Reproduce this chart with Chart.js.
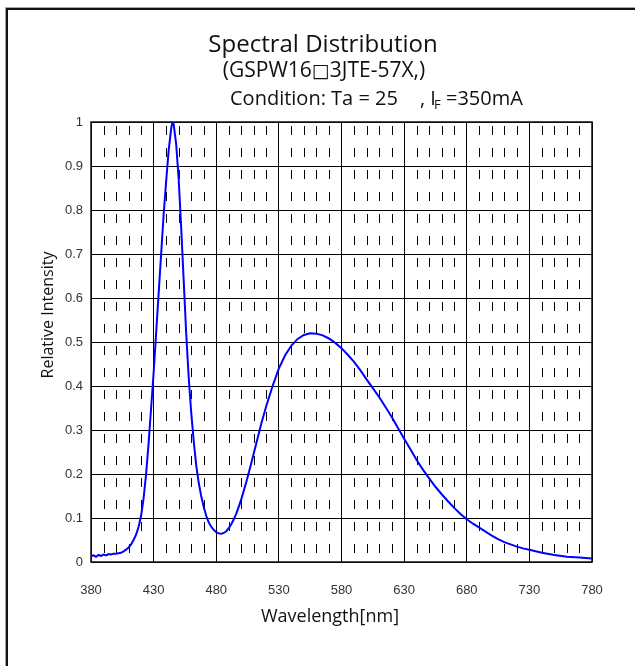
<!DOCTYPE html>
<html><head><meta charset="utf-8">
<script src="https://cdn.jsdelivr.net/npm/chart.js@4"></script>
<style>html,body{margin:0;padding:0;background:#fff;overflow:hidden}#wrap{position:relative;width:635px;height:666px}canvas{display:block}</style>
</head><body><div id="wrap"><canvas id="c" width="635" height="666"></canvas></div>
<script>
const wavelengths = [380,382,384,386,388,390,392,394,396,398,400,402,404,406,408,410,412,414,416,418,420,422,424,426,428,430,432,434,436,438,440,442,444,445,446,448,450,452,454,456,458,460,462,464,466,468,470,472,474,476,478,480,482,484,486,488,490,492,494,496,498,500,504,508,512,516,520,525,530,535,540,545,550,555,560,565,570,575,580,585,590,595,600,605,610,615,620,625,630,635,640,645,650,655,660,665,670,675,680,685,690,695,700,705,710,715,720,725,730,740,750,760,770,780];
const intensity = [0.013,0.015,0.012,0.016,0.014,0.017,0.015,0.018,0.017,0.019,0.019,0.020,0.021,0.024,0.028,0.033,0.040,0.050,0.062,0.080,0.105,0.145,0.200,0.270,0.350,0.430,0.520,0.610,0.700,0.790,0.865,0.935,0.985,1.000,0.995,0.950,0.870,0.760,0.640,0.520,0.420,0.340,0.275,0.220,0.180,0.150,0.125,0.105,0.090,0.080,0.073,0.068,0.065,0.064,0.066,0.070,0.077,0.086,0.097,0.110,0.126,0.143,0.182,0.225,0.270,0.315,0.355,0.400,0.440,0.470,0.492,0.507,0.516,0.520,0.519,0.515,0.508,0.498,0.486,0.471,0.455,0.436,0.415,0.395,0.375,0.353,0.330,0.305,0.280,0.256,0.232,0.210,0.190,0.171,0.154,0.138,0.123,0.109,0.097,0.087,0.078,0.069,0.060,0.052,0.045,0.040,0.035,0.031,0.028,0.021,0.016,0.012,0.010,0.008];
const xTickValues = [380,430,480,530,580,630,680,730,780];
const xMinorStep = 10;
const yTickValues = [0,0.1,0.2,0.3,0.4,0.5,0.6,0.7,0.8,0.9,1];
const titleText = 'Spectral Distribution';
const subtitleParts = ['(GSPW16', '\u25A1', '3JTE-57X,)'];
const conditionParts = ['Condition: Ta = 25', ', I', 'F', '=350mA'];
const xTitle = 'Wavelength[nm]';
const yTitle = 'Relative Intensity';

const tickFont = {family: "'Liberation Sans', Arial, sans-serif", size: 13};
const textFamily = "'Open Sans', sans-serif";

const framePlugin = {
  id: 'frame',
  beforeDraw(chart) {
    const ctx = chart.ctx;
    ctx.save();
    ctx.fillStyle = '#fff';
    ctx.fillRect(0, 0, chart.width, chart.height);
    ctx.fillStyle = '#aaa';
    ctx.fillRect(5, 7, 1, chart.height);
    ctx.fillRect(5, 7, chart.width, 1);
    ctx.fillStyle = '#111';
    ctx.fillRect(6, 8, 2, chart.height);
    ctx.fillRect(6, 8, chart.width, 2);
    ctx.restore();
  },
  beforeDatasetsDraw(chart) {
    const ctx = chart.ctx, a = chart.chartArea, xs = chart.scales.x;
    ctx.save();
    ctx.strokeStyle = '#000';
    ctx.lineWidth = 1;
    ctx.setLineDash([9, 13]);
    ctx.lineDashOffset = 18;
    for (let v = xs.min; v <= xs.max; v += xMinorStep) {
      if (xTickValues.includes(v)) continue;
      const px = Math.round(xs.getPixelForValue(v)) + 0.5;
      ctx.beginPath();
      ctx.moveTo(px, a.top);
      ctx.lineTo(px, a.bottom);
      ctx.stroke();
    }
    ctx.setLineDash([]);
    ctx.lineWidth = 1.5;
    ctx.strokeStyle = '#111';
    ctx.strokeRect(a.left, a.top, a.right - a.left, a.bottom - a.top);
    ctx.restore();
  },
  afterDraw(chart) {
    const ctx = chart.ctx;
    ctx.save();
    ctx.fillStyle = '#111';
    ctx.textBaseline = 'alphabetic';
    ctx.textAlign = 'center';
    ctx.font = '24px ' + textFamily;
    ctx.fillText(titleText, 323, 52);
    const segFonts = ['21px ' + textFamily, "19px 'DejaVu Sans'", '21px ' + textFamily];
    const widths = subtitleParts.map((t, i) => { ctx.font = segFonts[i]; return ctx.measureText(t).width; });
    let x = 324 - widths.reduce((p, c) => p + c, 0) / 2;
    ctx.textAlign = 'left';
    subtitleParts.forEach((t, i) => { ctx.font = segFonts[i]; ctx.fillText(t, x, 77); x += widths[i]; });
    ctx.font = '20px ' + textFamily;
    ctx.fillText(conditionParts[0], 230, 105);
    ctx.fillText(conditionParts[1], 420, 105);
    ctx.font = '13px ' + textFamily;
    ctx.fillText(conditionParts[2], 434, 109);
    ctx.font = '20px ' + textFamily;
    ctx.fillText(conditionParts[3], 446, 105);
    ctx.textAlign = 'center';
    ctx.font = '18px ' + textFamily;
    ctx.fillText(xTitle, 330, 622);
    ctx.translate(53, 315);
    ctx.rotate(-Math.PI / 2);
    ctx.font = '16px ' + textFamily;
    ctx.fillText(yTitle, 0, 0);
    ctx.restore();
  }
};

new Chart(document.getElementById('c'), {
  type: 'line',
  data: {
    datasets: [{
      data: wavelengths.map((w, i) => ({x: w, y: intensity[i]})),
      borderColor: '#0000ff',
      borderWidth: 2,
      pointRadius: 0,
      tension: 0,
      fill: false
    }]
  },
  options: {
    responsive: false,
    animation: false,
    layout: {padding: {left: 0, top: 122, right: 43, bottom: 0}},
    plugins: {legend: {display: false}, tooltip: {enabled: false}, title: {display: false}},
    scales: {
      x: {
        type: 'linear', min: 380, max: 780,
        afterBuildTicks: s => { s.ticks = xTickValues.map(v => ({value: v})); },
        afterFit: s => { s.height = 104; },
        grid: {color: '#000', lineWidth: 1, drawTicks: false},
        border: {display: false},
        ticks: {font: tickFont, color: '#333', padding: 21, maxRotation: 0, autoSkip: false,
                callback: v => String(v)}
      },
      y: {
        type: 'linear', min: 0, max: 1,
        afterBuildTicks: s => { s.ticks = yTickValues.map(v => ({value: v})); },
        afterFit: s => { s.width = 91; },
        grid: {color: '#000', lineWidth: 1, drawTicks: false},
        border: {display: false},
        ticks: {font: tickFont, color: '#333', padding: 8, autoSkip: false,
                callback: v => String(Math.round(v * 10) / 10)}
      }
    }
  },
  plugins: [framePlugin]
});
</script>
</body></html>
